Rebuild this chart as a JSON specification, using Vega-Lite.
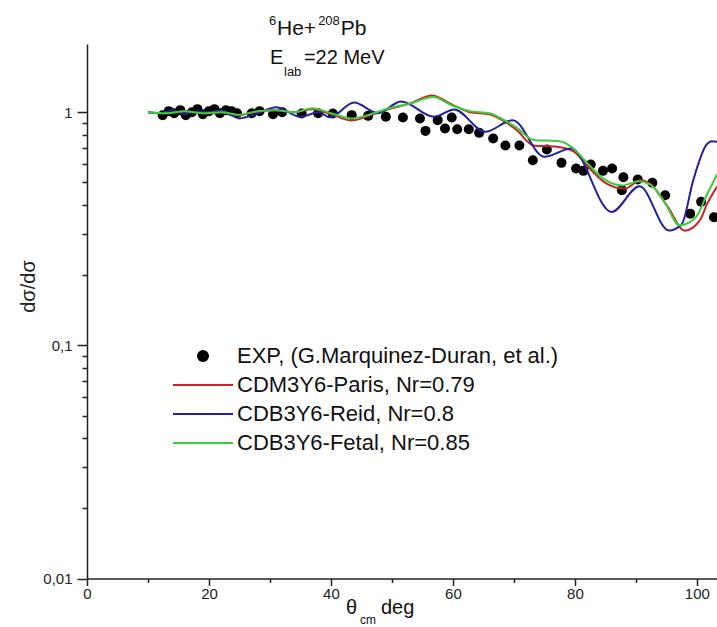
{
"$schema":"https://vega.github.io/schema/vega-lite/v6.json",
"width":630,"height":534.5,
"autosize":{"type":"none"},
"padding":{"left":87,"top":44,"right":0,"bottom":48.5},
"background":"white",
"config":{"view":{"stroke":null},"font":"Liberation Sans",
 "axis":{"grid":false,"domainColor":"#222","domainWidth":1.5,"tickColor":"#222","tickWidth":1.5,"labelColor":"#222","labelFont":"Liberation Sans","labelFontSize":15,"labelOverlap":false}},
"datasets":{
"exp":[
{"series":"EXP, (G.Marquinez-Duran, et al.)","theta":12.4,"sigma":0.97},
{"series":"EXP, (G.Marquinez-Duran, et al.)","theta":13.4,"sigma":1.01},
{"series":"EXP, (G.Marquinez-Duran, et al.)","theta":14.3,"sigma":0.99},
{"series":"EXP, (G.Marquinez-Duran, et al.)","theta":15.3,"sigma":1.02},
{"series":"EXP, (G.Marquinez-Duran, et al.)","theta":16.2,"sigma":0.97},
{"series":"EXP, (G.Marquinez-Duran, et al.)","theta":17.2,"sigma":1.0},
{"series":"EXP, (G.Marquinez-Duran, et al.)","theta":18.1,"sigma":1.03},
{"series":"EXP, (G.Marquinez-Duran, et al.)","theta":19.0,"sigma":0.98},
{"series":"EXP, (G.Marquinez-Duran, et al.)","theta":20.0,"sigma":1.01},
{"series":"EXP, (G.Marquinez-Duran, et al.)","theta":20.9,"sigma":1.03},
{"series":"EXP, (G.Marquinez-Duran, et al.)","theta":21.8,"sigma":0.99},
{"series":"EXP, (G.Marquinez-Duran, et al.)","theta":22.8,"sigma":1.02},
{"series":"EXP, (G.Marquinez-Duran, et al.)","theta":23.7,"sigma":1.01},
{"series":"EXP, (G.Marquinez-Duran, et al.)","theta":24.6,"sigma":0.99},
{"series":"EXP, (G.Marquinez-Duran, et al.)","theta":27.0,"sigma":0.99},
{"series":"EXP, (G.Marquinez-Duran, et al.)","theta":28.3,"sigma":1.01},
{"series":"EXP, (G.Marquinez-Duran, et al.)","theta":30.5,"sigma":0.98},
{"series":"EXP, (G.Marquinez-Duran, et al.)","theta":32.0,"sigma":1.0},
{"series":"EXP, (G.Marquinez-Duran, et al.)","theta":35.2,"sigma":0.987},
{"series":"EXP, (G.Marquinez-Duran, et al.)","theta":37.9,"sigma":0.99},
{"series":"EXP, (G.Marquinez-Duran, et al.)","theta":40.3,"sigma":0.987},
{"series":"EXP, (G.Marquinez-Duran, et al.)","theta":43.4,"sigma":0.971},
{"series":"EXP, (G.Marquinez-Duran, et al.)","theta":46.1,"sigma":0.964},
{"series":"EXP, (G.Marquinez-Duran, et al.)","theta":49.0,"sigma":0.955},
{"series":"EXP, (G.Marquinez-Duran, et al.)","theta":51.8,"sigma":0.949},
{"series":"EXP, (G.Marquinez-Duran, et al.)","theta":54.6,"sigma":0.94},
{"series":"EXP, (G.Marquinez-Duran, et al.)","theta":55.5,"sigma":0.831},
{"series":"EXP, (G.Marquinez-Duran, et al.)","theta":57.5,"sigma":0.924},
{"series":"EXP, (G.Marquinez-Duran, et al.)","theta":58.7,"sigma":0.851},
{"series":"EXP, (G.Marquinez-Duran, et al.)","theta":59.8,"sigma":0.949},
{"series":"EXP, (G.Marquinez-Duran, et al.)","theta":60.7,"sigma":0.845},
{"series":"EXP, (G.Marquinez-Duran, et al.)","theta":62.6,"sigma":0.845},
{"series":"EXP, (G.Marquinez-Duran, et al.)","theta":64.3,"sigma":0.815},
{"series":"EXP, (G.Marquinez-Duran, et al.)","theta":66.6,"sigma":0.771},
{"series":"EXP, (G.Marquinez-Duran, et al.)","theta":68.6,"sigma":0.719},
{"series":"EXP, (G.Marquinez-Duran, et al.)","theta":70.9,"sigma":0.719},
{"series":"EXP, (G.Marquinez-Duran, et al.)","theta":73.1,"sigma":0.622},
{"series":"EXP, (G.Marquinez-Duran, et al.)","theta":75.4,"sigma":0.692},
{"series":"EXP, (G.Marquinez-Duran, et al.)","theta":77.8,"sigma":0.606},
{"series":"EXP, (G.Marquinez-Duran, et al.)","theta":80.2,"sigma":0.573},
{"series":"EXP, (G.Marquinez-Duran, et al.)","theta":81.4,"sigma":0.56},
{"series":"EXP, (G.Marquinez-Duran, et al.)","theta":82.6,"sigma":0.596},
{"series":"EXP, (G.Marquinez-Duran, et al.)","theta":84.6,"sigma":0.56},
{"series":"EXP, (G.Marquinez-Duran, et al.)","theta":86.1,"sigma":0.573},
{"series":"EXP, (G.Marquinez-Duran, et al.)","theta":87.95,"sigma":0.526},
{"series":"EXP, (G.Marquinez-Duran, et al.)","theta":87.7,"sigma":0.463},
{"series":"EXP, (G.Marquinez-Duran, et al.)","theta":90.3,"sigma":0.514},
{"series":"EXP, (G.Marquinez-Duran, et al.)","theta":92.7,"sigma":0.498},
{"series":"EXP, (G.Marquinez-Duran, et al.)","theta":94.8,"sigma":0.44},
{"series":"EXP, (G.Marquinez-Duran, et al.)","theta":98.9,"sigma":0.367},
{"series":"EXP, (G.Marquinez-Duran, et al.)","theta":100.7,"sigma":0.413},
{"series":"EXP, (G.Marquinez-Duran, et al.)","theta":102.8,"sigma":0.354}
],
"curves":[
{"series":"CDM3Y6-Paris, Nr=0.79","theta":10,"sigma":1.0},
{"series":"CDM3Y6-Paris, Nr=0.79","theta":13,"sigma":0.99},
{"series":"CDM3Y6-Paris, Nr=0.79","theta":16,"sigma":1.01},
{"series":"CDM3Y6-Paris, Nr=0.79","theta":19,"sigma":0.99},
{"series":"CDM3Y6-Paris, Nr=0.79","theta":22,"sigma":1.0},
{"series":"CDM3Y6-Paris, Nr=0.79","theta":25,"sigma":0.97},
{"series":"CDM3Y6-Paris, Nr=0.79","theta":28,"sigma":1.01},
{"series":"CDM3Y6-Paris, Nr=0.79","theta":31,"sigma":1.02},
{"series":"CDM3Y6-Paris, Nr=0.79","theta":34,"sigma":1.0},
{"series":"CDM3Y6-Paris, Nr=0.79","theta":37,"sigma":1.03},
{"series":"CDM3Y6-Paris, Nr=0.79","theta":40,"sigma":0.98},
{"series":"CDM3Y6-Paris, Nr=0.79","theta":43.4,"sigma":0.92},
{"series":"CDM3Y6-Paris, Nr=0.79","theta":46,"sigma":0.96},
{"series":"CDM3Y6-Paris, Nr=0.79","theta":49.5,"sigma":1.03},
{"series":"CDM3Y6-Paris, Nr=0.79","theta":53,"sigma":1.09},
{"series":"CDM3Y6-Paris, Nr=0.79","theta":56.5,"sigma":1.18},
{"series":"CDM3Y6-Paris, Nr=0.79","theta":59.8,"sigma":1.08},
{"series":"CDM3Y6-Paris, Nr=0.79","theta":62.8,"sigma":1.0},
{"series":"CDM3Y6-Paris, Nr=0.79","theta":66,"sigma":0.98},
{"series":"CDM3Y6-Paris, Nr=0.79","theta":68.2,"sigma":0.92},
{"series":"CDM3Y6-Paris, Nr=0.79","theta":70.4,"sigma":0.84},
{"series":"CDM3Y6-Paris, Nr=0.79","theta":73.2,"sigma":0.72},
{"series":"CDM3Y6-Paris, Nr=0.79","theta":77,"sigma":0.71},
{"series":"CDM3Y6-Paris, Nr=0.79","theta":79.7,"sigma":0.68},
{"series":"CDM3Y6-Paris, Nr=0.79","theta":82.5,"sigma":0.57},
{"series":"CDM3Y6-Paris, Nr=0.79","theta":85.2,"sigma":0.494},
{"series":"CDM3Y6-Paris, Nr=0.79","theta":88.2,"sigma":0.47},
{"series":"CDM3Y6-Paris, Nr=0.79","theta":90.7,"sigma":0.51},
{"series":"CDM3Y6-Paris, Nr=0.79","theta":92.3,"sigma":0.494},
{"series":"CDM3Y6-Paris, Nr=0.79","theta":95.3,"sigma":0.39},
{"series":"CDM3Y6-Paris, Nr=0.79","theta":98,"sigma":0.31},
{"series":"CDM3Y6-Paris, Nr=0.79","theta":100.5,"sigma":0.344},
{"series":"CDM3Y6-Paris, Nr=0.79","theta":101.6,"sigma":0.40},
{"series":"CDM3Y6-Paris, Nr=0.79","theta":103.3,"sigma":0.48},
{"series":"CDB3Y6-Reid, Nr=0.8","theta":10,"sigma":1.0},
{"series":"CDB3Y6-Reid, Nr=0.8","theta":12,"sigma":0.99},
{"series":"CDB3Y6-Reid, Nr=0.8","theta":14,"sigma":1.02},
{"series":"CDB3Y6-Reid, Nr=0.8","theta":16,"sigma":0.98},
{"series":"CDB3Y6-Reid, Nr=0.8","theta":18,"sigma":1.01},
{"series":"CDB3Y6-Reid, Nr=0.8","theta":20,"sigma":1.0},
{"series":"CDB3Y6-Reid, Nr=0.8","theta":22,"sigma":1.02},
{"series":"CDB3Y6-Reid, Nr=0.8","theta":25,"sigma":0.94},
{"series":"CDB3Y6-Reid, Nr=0.8","theta":28,"sigma":0.99},
{"series":"CDB3Y6-Reid, Nr=0.8","theta":31,"sigma":1.05},
{"series":"CDB3Y6-Reid, Nr=0.8","theta":35,"sigma":0.955},
{"series":"CDB3Y6-Reid, Nr=0.8","theta":38,"sigma":1.0},
{"series":"CDB3Y6-Reid, Nr=0.8","theta":39.8,"sigma":0.95},
{"series":"CDB3Y6-Reid, Nr=0.8","theta":43.8,"sigma":1.1},
{"series":"CDB3Y6-Reid, Nr=0.8","theta":47.7,"sigma":0.99},
{"series":"CDB3Y6-Reid, Nr=0.8","theta":51.5,"sigma":1.11},
{"series":"CDB3Y6-Reid, Nr=0.8","theta":56.9,"sigma":0.955},
{"series":"CDB3Y6-Reid, Nr=0.8","theta":60.2,"sigma":1.027},
{"series":"CDB3Y6-Reid, Nr=0.8","theta":65.3,"sigma":0.823},
{"series":"CDB3Y6-Reid, Nr=0.8","theta":69.8,"sigma":0.924},
{"series":"CDB3Y6-Reid, Nr=0.8","theta":75.0,"sigma":0.643},
{"series":"CDB3Y6-Reid, Nr=0.8","theta":79.4,"sigma":0.698},
{"series":"CDB3Y6-Reid, Nr=0.8","theta":86.0,"sigma":0.373},
{"series":"CDB3Y6-Reid, Nr=0.8","theta":90.6,"sigma":0.481},
{"series":"CDB3Y6-Reid, Nr=0.8","theta":95.4,"sigma":0.311},
{"series":"CDB3Y6-Reid, Nr=0.8","theta":97.5,"sigma":0.33},
{"series":"CDB3Y6-Reid, Nr=0.8","theta":99.4,"sigma":0.51},
{"series":"CDB3Y6-Reid, Nr=0.8","theta":101.5,"sigma":0.72},
{"series":"CDB3Y6-Reid, Nr=0.8","theta":102.5,"sigma":0.75},
{"series":"CDB3Y6-Reid, Nr=0.8","theta":103.3,"sigma":0.746},
{"series":"CDB3Y6-Fetal, Nr=0.85","theta":10,"sigma":1.0},
{"series":"CDB3Y6-Fetal, Nr=0.85","theta":13,"sigma":0.99},
{"series":"CDB3Y6-Fetal, Nr=0.85","theta":16,"sigma":1.01},
{"series":"CDB3Y6-Fetal, Nr=0.85","theta":19,"sigma":0.99},
{"series":"CDB3Y6-Fetal, Nr=0.85","theta":22,"sigma":1.0},
{"series":"CDB3Y6-Fetal, Nr=0.85","theta":25,"sigma":0.975},
{"series":"CDB3Y6-Fetal, Nr=0.85","theta":28,"sigma":1.01},
{"series":"CDB3Y6-Fetal, Nr=0.85","theta":31,"sigma":1.02},
{"series":"CDB3Y6-Fetal, Nr=0.85","theta":34,"sigma":1.0},
{"series":"CDB3Y6-Fetal, Nr=0.85","theta":37,"sigma":1.04},
{"series":"CDB3Y6-Fetal, Nr=0.85","theta":40,"sigma":0.99},
{"series":"CDB3Y6-Fetal, Nr=0.85","theta":43.4,"sigma":0.94},
{"series":"CDB3Y6-Fetal, Nr=0.85","theta":46,"sigma":0.97},
{"series":"CDB3Y6-Fetal, Nr=0.85","theta":49.5,"sigma":1.04},
{"series":"CDB3Y6-Fetal, Nr=0.85","theta":53,"sigma":1.09},
{"series":"CDB3Y6-Fetal, Nr=0.85","theta":56.8,"sigma":1.16},
{"series":"CDB3Y6-Fetal, Nr=0.85","theta":59.8,"sigma":1.07},
{"series":"CDB3Y6-Fetal, Nr=0.85","theta":62.8,"sigma":1.01},
{"series":"CDB3Y6-Fetal, Nr=0.85","theta":66,"sigma":0.99},
{"series":"CDB3Y6-Fetal, Nr=0.85","theta":68.2,"sigma":0.93},
{"series":"CDB3Y6-Fetal, Nr=0.85","theta":70.4,"sigma":0.86},
{"series":"CDB3Y6-Fetal, Nr=0.85","theta":73.2,"sigma":0.76},
{"series":"CDB3Y6-Fetal, Nr=0.85","theta":77.5,"sigma":0.75},
{"series":"CDB3Y6-Fetal, Nr=0.85","theta":79.7,"sigma":0.70},
{"series":"CDB3Y6-Fetal, Nr=0.85","theta":81.9,"sigma":0.61},
{"series":"CDB3Y6-Fetal, Nr=0.85","theta":84.6,"sigma":0.52},
{"series":"CDB3Y6-Fetal, Nr=0.85","theta":87.9,"sigma":0.485},
{"series":"CDB3Y6-Fetal, Nr=0.85","theta":90.4,"sigma":0.505},
{"series":"CDB3Y6-Fetal, Nr=0.85","theta":92.3,"sigma":0.49},
{"series":"CDB3Y6-Fetal, Nr=0.85","theta":94.5,"sigma":0.42},
{"series":"CDB3Y6-Fetal, Nr=0.85","theta":97.2,"sigma":0.327},
{"series":"CDB3Y6-Fetal, Nr=0.85","theta":99.9,"sigma":0.356},
{"series":"CDB3Y6-Fetal, Nr=0.85","theta":101.6,"sigma":0.44},
{"series":"CDB3Y6-Fetal, Nr=0.85","theta":103.3,"sigma":0.54}
]},
"layer":[
{"data":{"name":"exp"},
 "mark":{"type":"point","filled":true,"size":100,"opacity":1},
 "encoding":{
  "x":{"field":"theta","type":"quantitative","scale":{"domain":[0,103.3],"nice":false,"zero":false},
   "axis":{"title":null,"values":[0,10,20,30,40,50,60,70,80,90,100],"labelExpr":"datum.value % 20 === 0 ? datum.label : ''","labelFlush":false,"labelPadding":1,
     "tickSize":{"condition":{"test":"datum.value % 20 !== 0","value":4},"value":7}}},
  "y":{"field":"sigma","type":"quantitative","scale":{"type":"log","domain":[0.01,1.96],"nice":false},
   "axis":{"values":[0.01,0.02,0.03,0.04,0.05,0.06,0.07,0.08,0.09,0.1,0.2,0.3,0.4,0.5,0.6,0.7,0.8,0.9,1],
     "labelExpr":"datum.value === 1 ? '1' : datum.value === 0.1 ? '0,1' : datum.value === 0.01 ? '0,01' : ''",
     "labelPadding":5,
     "tickSize":{"condition":{"test":"datum.value !== 1 && datum.value !== 0.1 && datum.value !== 0.01","value":5},"value":10},
     "title":"dσ/dσ","titleFont":"Liberation Sans","titleFontSize":20,"titleFontWeight":"normal","titleColor":"#222",
     "titleX":-59,"titleY":242,"titleAngle":-90,"titleAlign":"center","titleBaseline":"middle"}},
  "color":{"field":"series","type":"nominal",
   "scale":{"domain":["EXP, (G.Marquinez-Duran, et al.)","CDM3Y6-Paris, Nr=0.79","CDB3Y6-Reid, Nr=0.8","CDB3Y6-Fetal, Nr=0.85"],"range":["#000000","#c8252b","#22229a","#3ccc3c"]},
   "legend":{"title":null,"orient":"none","legendX":105,"legendY":301,"padding":0,"symbolSize":144,"symbolStrokeWidth":0,"symbolOpacity":1,
     "labelFont":"Liberation Sans","labelFontSize":22,"labelColor":"#111","labelLimit":600,"labelOffset":23,"rowPadding":7}},
  "shape":{"field":"series","type":"nominal",
   "scale":{"domain":["EXP, (G.Marquinez-Duran, et al.)","CDM3Y6-Paris, Nr=0.79","CDB3Y6-Reid, Nr=0.8","CDB3Y6-Fetal, Nr=0.85"],"range":["circle","M-5,-0.17L5,-0.17L5,0.17L-5,0.17Z","M-5,-0.17L5,-0.17L5,0.17L-5,0.17Z","M-5,-0.17L5,-0.17L5,0.17L-5,0.17Z"]},
   "legend":{"title":null,"orient":"none","legendX":105,"legendY":301,"padding":0,"symbolSize":144,"symbolStrokeWidth":0,"symbolOpacity":1,
     "labelFont":"Liberation Sans","labelFontSize":22,"labelColor":"#111","labelLimit":600,"labelOffset":23,"rowPadding":7}}}},
{"data":{"name":"curves"},"transform":[{"filter":"datum.series === 'CDM3Y6-Paris, Nr=0.79'"}],
 "mark":{"type":"line","strokeWidth":2,"interpolate":"monotone","clip":true},
 "encoding":{"x":{"field":"theta","type":"quantitative"},"y":{"field":"sigma","type":"quantitative"},"color":{"field":"series","type":"nominal"}}},
{"data":{"name":"curves"},"transform":[{"filter":"datum.series === 'CDB3Y6-Reid, Nr=0.8'"}],
 "mark":{"type":"line","strokeWidth":2,"interpolate":"monotone","clip":true},
 "encoding":{"x":{"field":"theta","type":"quantitative"},"y":{"field":"sigma","type":"quantitative"},"color":{"field":"series","type":"nominal"}}},
{"data":{"name":"curves"},"transform":[{"filter":"datum.series === 'CDB3Y6-Fetal, Nr=0.85'"}],
 "mark":{"type":"line","strokeWidth":2,"interpolate":"monotone","clip":true},
 "encoding":{"x":{"field":"theta","type":"quantitative"},"y":{"field":"sigma","type":"quantitative"},"color":{"field":"series","type":"nominal"}}},
{"data":{"values":[{"t":"6"}]},"mark":{"type":"text","align":"left","baseline":"alphabetic","fontSize":13,"color":"#111"},
 "encoding":{"x":{"datum":29.84,"type":"quantitative"},"y":{"datum":2.36,"type":"quantitative"},"text":{"field":"t"}}},
{"data":{"values":[{"t":"He+"}]},"mark":{"type":"text","align":"left","baseline":"alphabetic","fontSize":21,"color":"#111"},
 "encoding":{"x":{"datum":31.15,"type":"quantitative"},"y":{"datum":2.139,"type":"quantitative"},"text":{"field":"t"}}},
{"data":{"values":[{"t":"208"}]},"mark":{"type":"text","align":"left","baseline":"alphabetic","fontSize":13,"color":"#111"},
 "encoding":{"x":{"datum":37.9,"type":"quantitative"},"y":{"datum":2.36,"type":"quantitative"},"text":{"field":"t"}}},
{"data":{"values":[{"t":"Pb"}]},"mark":{"type":"text","align":"left","baseline":"alphabetic","fontSize":21,"color":"#111"},
 "encoding":{"x":{"datum":41.6,"type":"quantitative"},"y":{"datum":2.139,"type":"quantitative"},"text":{"field":"t"}}},
{"data":{"values":[{"t":"E"}]},"mark":{"type":"text","align":"left","baseline":"alphabetic","fontSize":20,"color":"#111"},
 "encoding":{"x":{"datum":30.0,"type":"quantitative"},"y":{"datum":1.606,"type":"quantitative"},"text":{"field":"t"}}},
{"data":{"values":[{"t":"lab"}]},"mark":{"type":"text","align":"left","baseline":"alphabetic","fontSize":13,"color":"#111"},
 "encoding":{"x":{"datum":32.3,"type":"quantitative"},"y":{"datum":1.427,"type":"quantitative"},"text":{"field":"t"}}},
{"data":{"values":[{"t":"=22 MeV"}]},"mark":{"type":"text","align":"left","baseline":"alphabetic","fontSize":20,"color":"#111"},
 "encoding":{"x":{"datum":35.57,"type":"quantitative"},"y":{"datum":1.606,"type":"quantitative"},"text":{"field":"t"}}},
{"data":{"values":[{"t":"θ"}]},"mark":{"type":"text","align":"left","baseline":"alphabetic","fontSize":20,"color":"#111"},
 "encoding":{"x":{"datum":42.46,"type":"quantitative"},"y":{"datum":0.00705,"type":"quantitative"},"text":{"field":"t"}}},
{"data":{"values":[{"t":"cm"}]},"mark":{"type":"text","align":"left","baseline":"alphabetic","fontSize":12,"color":"#111"},
 "encoding":{"x":{"datum":44.75,"type":"quantitative"},"y":{"datum":0.00638,"type":"quantitative"},"text":{"field":"t"}}},
{"data":{"values":[{"t":"deg"}]},"mark":{"type":"text","align":"left","baseline":"alphabetic","fontSize":20,"color":"#111"},
 "encoding":{"x":{"datum":48.2,"type":"quantitative"},"y":{"datum":0.00705,"type":"quantitative"},"text":{"field":"t"}}}
]
}
